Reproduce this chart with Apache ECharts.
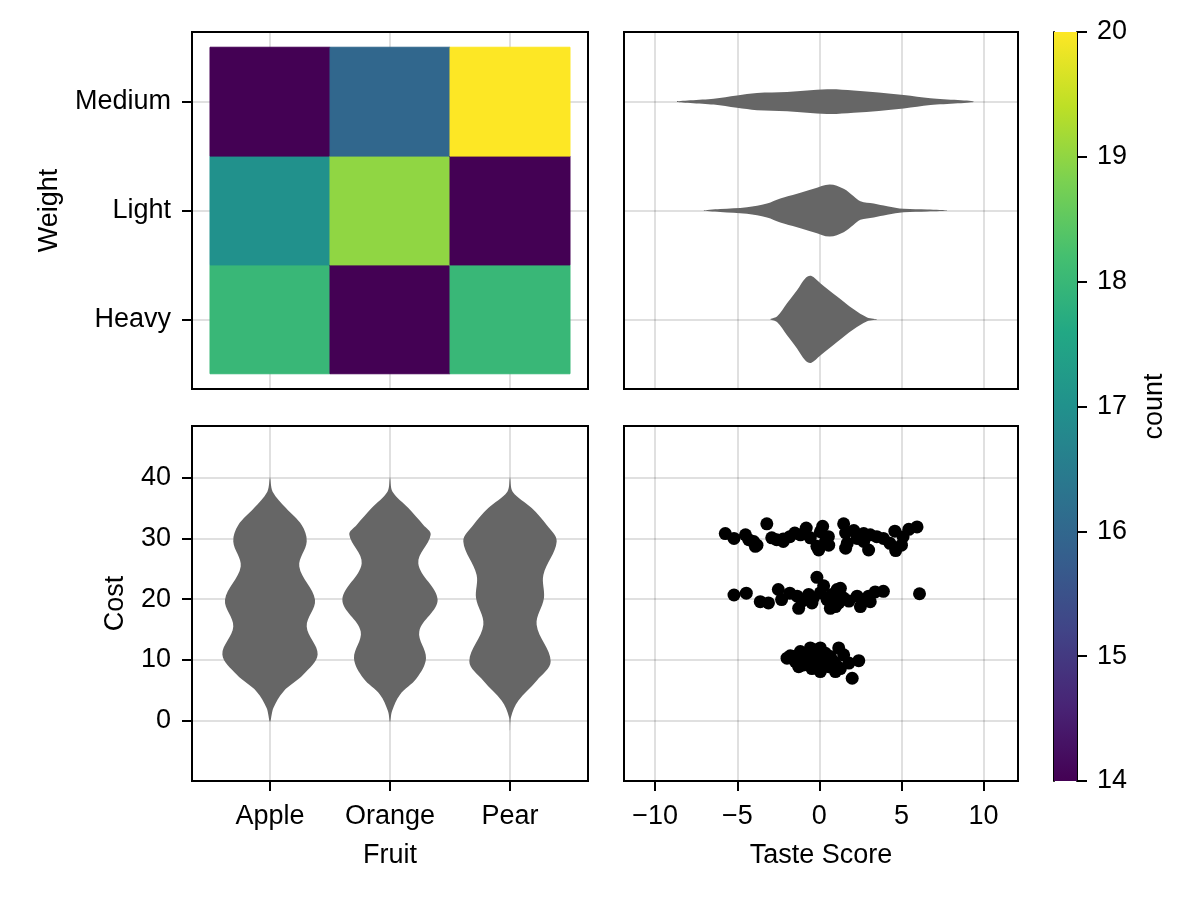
<!DOCTYPE html>
<html lang="en">
<head>
  <meta charset="UTF-8">
  <title>fruit-panels</title>
  <script src="https://cdn.jsdelivr.net/npm/echarts@6/dist/echarts.min.js"></script>
  <style>
    html, body {
      margin: 0;
      padding: 0;
      background: #fff;
    }

    #chart-main {
      width: 1200px;
      height: 900px;
    }
  </style>
</head>
<body>
<div id="chart-main"></div>

<script type="text/javascript">
  // categories
  const fruits = ['Apple', 'Orange', 'Pear']
  const weights = ['Heavy', 'Light', 'Medium']

  // counts per fruit (rows) and weight (columns: Heavy, Light, Medium)
  const counts = [
    [18, 17, 14],
    [14, 19, 16],
    [18, 14, 20]
  ]

  // violin outlines: [value, half width in category units]
  const appleCost = [[39.9, 0], [37.7, 0.022], [35.0, 0.133], [32.2, 0.264], [29.5, 0.306], [25.4, 0.244],
    [19.9, 0.375], [15.5, 0.306], [10.9, 0.397], [7.6, 0.278], [4.8, 0.111], [2.1, 0.028], [-0.1, 0]]
  const orangeCost = [[39.9, 0], [37.7, 0.021], [35.0, 0.153], [32.2, 0.278], [30.6, 0.339], [25.9, 0.236],
    [19.9, 0.397], [14.7, 0.244], [10.3, 0.3], [7.0, 0.222], [4.3, 0.083], [1.6, 0.017], [-0.1, 0]]
  const pearCost = [[39.9, 0], [37.7, 0.022], [35.0, 0.181], [32.2, 0.306], [29.5, 0.389], [24.0, 0.278],
    [20.2, 0.283], [15.8, 0.222], [9.8, 0.339], [6.6, 0.222], [3.3, 0.069], [0.6, 0.008], [-1.6, 0]]

  const heavyTaste = [[-2.99, 0], [-2.58, 0.025], [-1.97, 0.147], [-1.36, 0.267], [-0.85, 0.378], [-0.51, 0.4],
    [0.06, 0.332], [1.08, 0.209], [2.09, 0.092], [2.91, 0.018], [3.52, 0]]
  const lightTaste = [[-7.05, 0], [-6.04, 0.014], [-4.41, 0.031], [-3.19, 0.065], [-2.38, 0.111], [-1.36, 0.154],
    [-0.35, 0.2], [0.63, 0.24], [1.48, 0.2], [2.09, 0.132], [2.5, 0.086], [3.31, 0.065], [4.13, 0.04],
    [5.14, 0.016], [6.57, 0.009], [7.79, 0]]
  const mediumTaste = [[-8.68, 0], [-6.44, 0.027], [-5.02, 0.057], [-3.8, 0.079], [-1.97, 0.088], [0.47, 0.114],
    [2.09, 0.103], [5.14, 0.062], [6.77, 0.031], [9.41, 0]]

  const costProfiles = [appleCost, orangeCost, pearCost]
  const tasteProfiles = [heavyTaste, lightTaste, mediumTaste]

  // taste score vs cost points: [taste, cost]
  const heavyPoints = [[-1.97, 10.3], [-1.77, 10.7], [-1.57, 10.6], [-1.46, 9.75], [-1.26, 8.9], [-1.16, 11.4],
    [-0.96, 9.2], [-0.96, 10.0], [-0.75, 10.6], [-0.55, 12.0], [-0.55, 9.5], [-0.45, 8.6], [-0.35, 11.1],
    [-0.15, 10.3], [-0.15, 11.7], [0.06, 12.0], [0.06, 8.1], [0.06, 9.2], [0.26, 9.75], [0.37, 11.1],
    [0.57, 8.9], [0.67, 10.6], [0.87, 9.75], [0.98, 8.1], [1.18, 12.0], [1.28, 8.6], [1.48, 10.85],
    [1.8, 9.5], [2.0, 7.0], [2.4, 9.9], [-1.3, 10.2], [0.4, 10.2], [-0.6, 10.0], [1.0, 9.3]]
  const lightPoints = [[-5.2, 20.7], [-4.45, 21.0], [-3.6, 19.6], [-3.1, 19.4], [-2.5, 21.6], [-2.3, 19.95],
    [-1.8, 21.0], [-1.35, 20.5], [-1.26, 18.5], [-1.05, 19.7], [-0.65, 20.8], [-0.45, 19.4], [-0.37, 20.2],
    [-0.15, 23.6], [0.06, 21.05], [0.26, 22.2], [0.47, 19.95], [0.67, 18.5], [0.77, 20.8], [0.98, 18.8],
    [1.08, 21.6], [1.18, 19.4], [1.28, 21.8], [1.48, 20.2], [1.8, 19.7], [2.3, 20.5], [2.5, 18.8],
    [2.7, 19.7], [3.0, 20.5], [3.1, 19.6], [3.4, 21.2], [3.9, 21.3], [6.1, 20.9]]
  const mediumPoints = [[-5.73, 30.8], [-5.2, 30.0], [-4.5, 30.6], [-4.3, 29.8], [-4.0, 29.5], [-3.8, 28.9],
    [-3.9, 28.7], [-3.2, 32.4], [-2.9, 30.1], [-2.6, 29.8], [-2.2, 29.9], [-2.2, 29.5], [-1.8, 30.3],
    [-1.5, 30.9], [-1.15, 30.6], [-0.8, 31.7], [-0.55, 30.1], [-0.15, 28.7], [-0.04, 28.1], [0.06, 31.1],
    [0.2, 32.0], [0.37, 29.5], [0.55, 30.3], [0.57, 28.9], [1.48, 32.4], [1.6, 30.9], [1.7, 29.2],
    [1.6, 28.4], [2.1, 31.3], [2.3, 30.0], [2.7, 29.5], [2.7, 30.8], [3.0, 28.1], [3.1, 30.6], [3.5, 30.3],
    [3.9, 30.0], [4.3, 29.2], [4.6, 31.2], [4.65, 28.0], [5.0, 28.9], [5.1, 30.3], [5.45, 31.5], [5.95, 31.9]]

  // tick values
  const categoryTicks = [1, 2, 3]
  const costTicks = [0, 10, 20, 30, 40]
  const tasteTicks = [-10, -5, 0, 5, 10]

  const viridis = ['#440154', '#482475', '#414487', '#355f8d', '#2a788e', '#21918c',
    '#22a884', '#44bf70', '#7ad151', '#bddf26', '#fde725']

  const chart = echarts.init(document.getElementById('chart-main'))

  const FONT = 'Liberation Sans'
  const FS = 27
  const gridLine = {show: true, lineStyle: {color: 'rgba(0,0,0,0.12)', width: 2}}
  const tick = {show: true, length: 10, lineStyle: {color: '#000', width: 2}}
  const noLine = {show: false, onZero: false}
  const labelStyle = {color: '#000', fontFamily: FONT, fontSize: FS}
  // vertical axis labels sit a touch low in the reference
  const sideLabel = Object.assign({padding: [4, 0, 0, 0]}, labelStyle)
  const minus = v => String(v).replace('-', '\u2212')

  const heatData = []
  counts.forEach((row, fi) => row.forEach((c, wi) => heatData.push([fi + 1, wi + 1, c])))

  function frame (left, top, width, height) {
    return {left, top, width, height, show: true, borderColor: '#000', borderWidth: 2, backgroundColor: '#fff'}
  }

  function violinRender (profiles, vertical) {
    return function (params, api) {
      const prof = profiles[params.dataIndex]
      const c = api.value(0)
      const pt = (p, s) => vertical ? api.coord([c + s * p[1], p[0]]) : api.coord([p[0], c + s * p[1]])
      const pts = prof.map(p => pt(p, -1))
      for (let i = prof.length - 2; i > 0; i--) pts.push(pt(prof[i], 1))
      return {
        type: 'polygon',
        shape: {points: pts, smooth: 0.35},
        style: {fill: '#666666'}
      }
    }
  }

  const option = {
    animation: false,
    backgroundColor: '#fff',
    textStyle: {fontFamily: FONT},
    grid: [
      frame(192, 32, 396, 357),
      frame(624, 32, 394, 357),
      frame(192, 426, 396, 355),
      frame(624, 426, 394, 355),
      {left: 1054, top: 32, width: 23, height: 749}
    ],
    visualMap: {
      show: false,
      seriesIndex: 0,
      dimension: 2,
      min: 14,
      max: 20,
      inRange: {color: viridis}
    },
    xAxis: [
      {
        gridIndex: 0, type: 'value', min: 0.35, max: 3.65,
        axisLine: noLine, axisTick: {show: false, customValues: categoryTicks},
        axisLabel: {show: false}, splitLine: gridLine
      },
      {
        gridIndex: 1, type: 'value', min: -11.9, max: 12.1,
        axisLine: noLine, axisTick: {show: false, customValues: tasteTicks},
        axisLabel: {show: false}, splitLine: gridLine
      },
      {
        gridIndex: 2, type: 'value', min: 0.35, max: 3.65,
        name: 'Fruit', nameLocation: 'middle', nameGap: 61,
        nameTextStyle: labelStyle,
        axisLine: noLine, axisTick: Object.assign({customValues: categoryTicks}, tick),
        axisLabel: Object.assign({
          customValues: categoryTicks, margin: 22,
          formatter: v => fruits[Math.round(v) - 1]
        }, labelStyle),
        splitLine: gridLine
      },
      {
        gridIndex: 3, type: 'value', min: -11.9, max: 12.1,
        name: 'Taste Score', nameLocation: 'middle', nameGap: 61,
        nameTextStyle: labelStyle,
        axisLine: noLine, axisTick: Object.assign({customValues: tasteTicks}, tick),
        axisLabel: Object.assign({customValues: tasteTicks, margin: 22, formatter: minus}, labelStyle),
        splitLine: gridLine
      },
      {gridIndex: 4, type: 'value', min: 0, max: 1, show: false}
    ],
    yAxis: [
      {
        gridIndex: 0, type: 'value', min: 0.36, max: 3.64,
        name: 'Weight', nameLocation: 'middle', nameGap: 129,
        nameTextStyle: labelStyle,
        axisLine: noLine, axisTick: Object.assign({customValues: categoryTicks}, tick),
        axisLabel: Object.assign({
          customValues: categoryTicks, margin: 21,
          formatter: v => weights[Math.round(v) - 1]
        }, sideLabel),
        splitLine: gridLine
      },
      {
        gridIndex: 1, type: 'value', min: 0.36, max: 3.64,
        axisLine: noLine, axisTick: {show: false, customValues: categoryTicks},
        axisLabel: {show: false}, splitLine: gridLine
      },
      {
        gridIndex: 2, type: 'value', min: -9.9, max: 48.5,
        name: 'Cost', nameLocation: 'middle', nameGap: 63,
        nameTextStyle: labelStyle,
        axisLine: noLine, axisTick: Object.assign({customValues: costTicks}, tick),
        axisLabel: Object.assign({customValues: costTicks, margin: 21, formatter: minus}, sideLabel),
        splitLine: gridLine
      },
      {
        gridIndex: 3, type: 'value', min: -9.9, max: 48.5,
        axisLine: noLine, axisTick: {show: false, customValues: costTicks},
        axisLabel: {show: false}, splitLine: gridLine
      },
      {
        gridIndex: 4, type: 'value', min: 14, max: 20, interval: 1, position: 'right',
        name: 'count', nameLocation: 'middle', nameGap: 64,
        nameTextStyle: labelStyle,
        axisLine: {show: true, onZero: false, lineStyle: {color: '#000', width: 2}},
        axisTick: tick,
        axisLabel: Object.assign({margin: 20}, sideLabel),
        splitLine: {show: false}
      },
      {
        gridIndex: 4, type: 'value', min: 14, max: 20, position: 'left',
        axisLine: {show: true, onZero: false, lineStyle: {color: '#000', width: 2}},
        axisTick: {show: false}, axisLabel: {show: false}, splitLine: {show: false}
      }
    ],
    series: [
      {
        type: 'custom',
        xAxisIndex: 0,
        yAxisIndex: 0,
        data: heatData,
        renderItem: function (params, api) {
          const x = api.value(0)
          const y = api.value(1)
          const p0 = api.coord([x - 0.5, y + 0.5])
          const p1 = api.coord([x + 0.5, y - 0.5])
          const color = api.visual('color')
          return {
            type: 'rect',
            shape: {x: p0[0], y: p0[1], width: p1[0] - p0[0], height: p1[1] - p0[1]},
            style: {fill: color, stroke: color, lineWidth: 1}
          }
        }
      },
      {
        type: 'custom',
        xAxisIndex: 1,
        yAxisIndex: 1,
        data: weights.map((w, i) => [i + 1]),
        renderItem: violinRender(tasteProfiles, false)
      },
      {
        type: 'custom',
        xAxisIndex: 2,
        yAxisIndex: 2,
        data: fruits.map((f, i) => [i + 1]),
        renderItem: violinRender(costProfiles, true)
      },
      {
        type: 'scatter',
        xAxisIndex: 3,
        yAxisIndex: 3,
        symbolSize: 13,
        itemStyle: {color: '#000', opacity: 1},
        data: mediumPoints.concat(lightPoints, heavyPoints)
      },
      {
        type: 'custom',
        xAxisIndex: 4,
        yAxisIndex: 4,
        z: 1,
        data: [[0, 14, 20]],
        renderItem: function (params, api) {
          const p0 = api.coord([0, api.value(2)])
          const p1 = api.coord([1, api.value(1)])
          const stops = viridis.map((c, i) => ({offset: i / (viridis.length - 1), color: c}))
          return {
            type: 'rect',
            shape: {x: p0[0], y: p0[1], width: p1[0] - p0[0], height: p1[1] - p0[1]},
            style: {fill: new echarts.graphic.LinearGradient(0, 1, 0, 0, stops)}
          }
        }
      }
    ]
  }

  chart.setOption(option)
</script>
</body>
</html>
